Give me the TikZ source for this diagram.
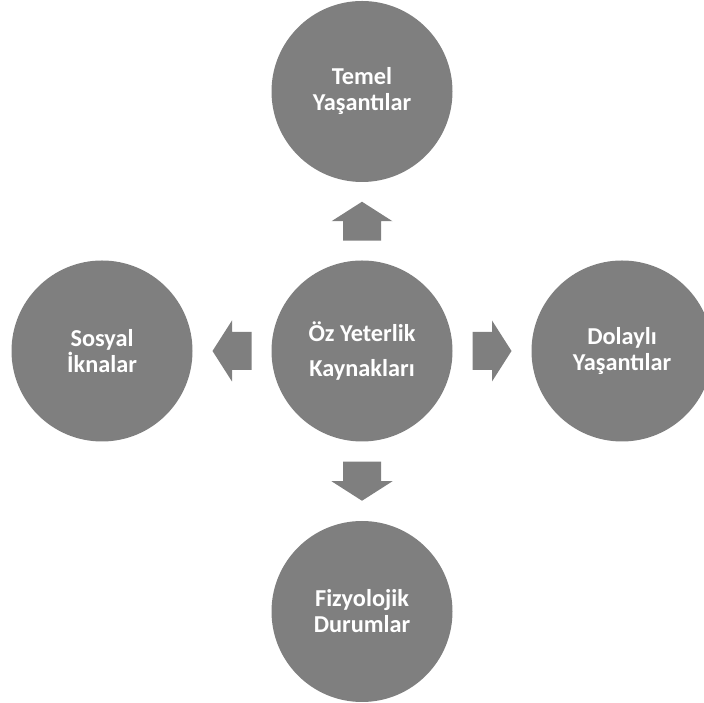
\documentclass[tikz,border=0pt]{standalone}
\usepackage{fontspec}
\setmainfont{Carlito}
\usetikzlibrary{calc}
\definecolor{discgrey}{HTML}{7F7F7F}
\tikzset{
  disc/.style={circle, fill=discgrey, draw=none, minimum size=181pt, inner sep=0pt,
    text=white, align=center, font=\bfseries\fontsize{24.3}{26}\selectfont},
  blockarrow/.pic={
    \fill[discgrey] (-19.5,-19) -- (0,-19) -- (0,-30.5) -- (19.5,0)
      -- (0,30.5) -- (0,19) -- (-19.5,19) -- cycle;
  }
}
\begin{document}
\begin{tikzpicture}[x=1pt,y=1pt]
  \useasboundingbox (0,0) rectangle (704,703);
  \clip (0,0) rectangle (704,703);
  % the five sources arranged around the centre
  \node[disc, font=\bfseries\fontsize{24.3}{35}\selectfont] (c) at (362,352) {Öz Yeterlik\\Kaynakları};
  \node[disc] (t) at (362,611.5) {Temel\\Yaşantılar};
  \node[disc] (b) at (362,91.5) {Fizyolojik\\Durumlar};
  \node[disc] (l) at (102,352) {Sosyal\\İknalar};
  \node[disc] (r) at (622,352) {Dolaylı\\Yaşantılar};
  % block arrows pointing outward from the centre
  \path ($(c.north)!0.5!(t.south)$) pic[rotate=90] {blockarrow};
  \path ($(c.south)!0.5!(b.north)$) pic[rotate=-90] {blockarrow};
  \path ($(c.west)!0.5!(l.east)$) pic[rotate=180] {blockarrow};
  \path ($(c.east)!0.5!(r.west)$) pic {blockarrow};
\end{tikzpicture}
\end{document}
